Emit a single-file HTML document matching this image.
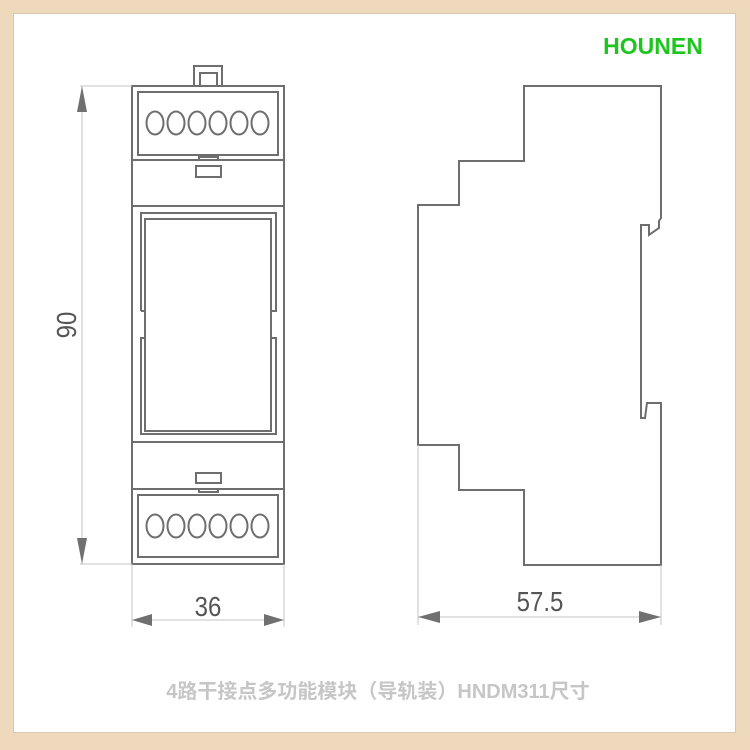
<!DOCTYPE html>
<html><head><meta charset="utf-8"><style>
html,body{margin:0;padding:0;}
body{width:750px;height:750px;background:#efd9bd;position:relative;overflow:hidden;}
.in{position:absolute;left:13px;top:13px;width:723px;height:720px;background:#fff;border:1px solid #d9c8b0;box-sizing:border-box;}
svg{position:absolute;left:0;top:0;}
</style></head><body>
<div class="in"></div>
<svg width="750" height="750" viewBox="0 0 750 750">
<g fill="none" stroke="#6e6e6e" stroke-width="2">
<rect x="194" y="66" width="28" height="20"/>
<rect x="200" y="73" width="17" height="13"/>
<rect x="132" y="86" width="152" height="478"/>
<rect x="138" y="92" width="140" height="63"/>
<line x1="132" y1="160" x2="284" y2="160"/>
<rect x="199" y="157" width="19" height="3"/>
<rect x="196" y="166" width="25" height="11"/>
<line x1="132" y1="206" x2="284" y2="206"/>
<path d="M141 311 V213 H276 V311 H271 M271 338 H276 V434 H141 V338 H145"/>
<path d="M145 311 H141"/>
<rect x="145" y="219" width="126" height="212"/>
<line x1="132" y1="442" x2="284" y2="442"/>
<rect x="196" y="473" width="25" height="10"/>
<line x1="132" y1="489" x2="284" y2="489"/>
<rect x="199" y="489" width="19" height="3"/>
<rect x="138" y="495" width="140" height="62"/>
<g>
<ellipse cx="155" cy="123" rx="8.5" ry="11.5"/><ellipse cx="176" cy="123" rx="8.5" ry="11.5"/><ellipse cx="197" cy="123" rx="8.5" ry="11.5"/><ellipse cx="218" cy="123" rx="8.5" ry="11.5"/><ellipse cx="239" cy="123" rx="8.5" ry="11.5"/><ellipse cx="260" cy="123" rx="8.5" ry="11.5"/>
<ellipse cx="155" cy="526" rx="8.5" ry="11.5"/><ellipse cx="176" cy="526" rx="8.5" ry="11.5"/><ellipse cx="197" cy="526" rx="8.5" ry="11.5"/><ellipse cx="218" cy="526" rx="8.5" ry="11.5"/><ellipse cx="239" cy="526" rx="8.5" ry="11.5"/><ellipse cx="260" cy="526" rx="8.5" ry="11.5"/>
</g>
<path d="M524 86 H661 V218 L659 221 V228 L649 235 V225 H641 V418 H645 L647 403 H661 V565 H524 V490 H459 V445 H418 V205 H459 V161 H524 Z"/>
</g>
<g stroke="#c4c4c4" stroke-width="1" fill="none">
<line x1="80" y1="86" x2="132" y2="86"/><line x1="80" y1="564" x2="132" y2="564"/>
<line x1="82" y1="86" x2="82" y2="564"/>
<line x1="132" y1="564" x2="132" y2="627"/><line x1="284" y1="564" x2="284" y2="627"/>
<line x1="132" y1="620" x2="284" y2="620"/>
<line x1="418" y1="445" x2="418" y2="625"/><line x1="661" y1="565" x2="661" y2="625"/>
<line x1="418" y1="617" x2="661" y2="617"/>
</g>
<g fill="#707070">
<polygon points="82,86 77,112 87,112"/><polygon points="82,564 77,538 87,538"/>
<polygon points="132,620 152,614 152,626"/><polygon points="284,620 264,614 264,626"/>
<polygon points="418,617 440,611 440,623"/><polygon points="661,617 639,611 639,623"/>
</g>
<g font-family="Liberation Sans, sans-serif" fill="#555" font-size="24">
<text x="0" y="0" transform="translate(76,325) rotate(-90) scale(1,1.15)" text-anchor="middle">90</text>
<text x="0" y="0" transform="translate(208,616) scale(1,1.15)" text-anchor="middle">36</text>
<text x="0" y="0" transform="translate(540,611) scale(1,1.15)" text-anchor="middle">57.5</text>
</g>
<text x="653" y="54" text-anchor="middle" font-family="Liberation Sans, sans-serif" font-weight="bold" font-size="23" fill="#1ec51e">HOUNEN</text>
<text x="378" y="698" text-anchor="middle" font-family="Liberation Sans, 'Noto Sans CJK SC', sans-serif" font-weight="bold" font-size="20" fill="#c6c6c6">4路干接点多功能模块（导轨装）HNDM311尺寸</text>
</svg>
</body></html>
